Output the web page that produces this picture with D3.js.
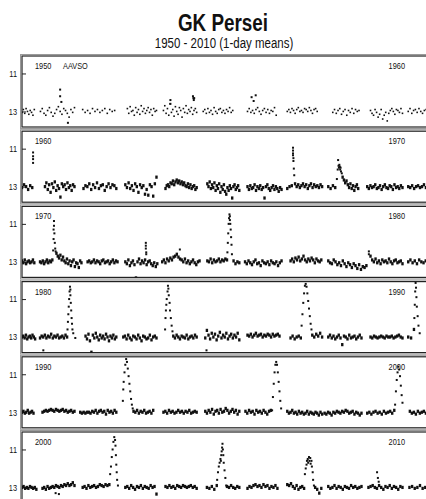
<!DOCTYPE html>
<html>
<head>
<meta charset="utf-8">
<script src="https://cdn.jsdelivr.net/npm/d3@7"></script>
<style>
  body { margin: 0; background: #fff; }
  svg text { font-family: "Liberation Sans", Arial, Helvetica, sans-serif; fill: #111; }
</style>
</head>
<body>
<svg id="chart"></svg>
<script>
// decades, one panel each
var decades = [1950, 1960, 1970, 1980, 1990, 2000];
var magTicks = [11, 13];

// observing seasons: [start, end, magnitudes read left to right]
var seasons1950 = [
  [1950.00, 1950.30, [13.05, 12.9, 13.1, 12.85, 13.0, 13.15, 12.95, 13.05, 13.2, 12.9]],
  [1950.45, 1951.28, [13.0, 12.85, 13.1, 13.2, 12.95, 12.8, 13.05, 13.25, 13.1, 12.9, 12.75, 13.0, 13.15, 12.85, 12.95, 13.1, 13.3, 12.9, 13.05, 12.8]],
  [1951.48, 1952.26, [12.9, 13.05, 12.95, 13.1, 12.85, 13.0, 12.9, 13.05, 12.95, 12.85, 13.1, 12.9, 13.0, 12.95]],
  [1952.57, 1953.28, [12.85, 13.1, 12.75, 13.0, 12.95, 13.2, 12.8, 13.05, 12.9, 13.15, 12.7, 13.0, 12.85, 13.1, 12.95, 12.8, 13.05, 12.9, 13.2, 12.85, 13.0, 12.95]],
  [1953.45, 1954.26, [12.95, 12.7, 13.1, 12.85, 13.2, 12.6, 13.05, 12.9, 13.25, 12.75, 13.0, 13.15, 12.8, 12.95, 13.3, 12.85, 13.05, 12.7, 13.1, 12.9, 13.0, 12.8, 13.15, 12.95, 12.85, 13.05]],
  [1954.42, 1955.14, [13.0, 12.9, 13.1, 12.85, 13.05, 12.95, 13.15, 12.8, 13.0, 13.1, 12.9, 12.85, 13.05, 12.95, 13.1, 12.9, 13.0, 12.8, 13.05, 12.95]],
  [1955.50, 1956.20, [13.0, 12.85, 13.05, 12.95, 13.1, 12.9, 12.8, 13.0, 13.15, 12.95, 12.85, 13.05, 12.9, 13.1, 12.95, 13.0, 12.8, 13.2]],
  [1956.47, 1957.20, [13.0, 12.9, 13.05, 12.85, 12.95, 13.1, 12.9, 12.8, 13.0, 12.95, 13.05, 12.85, 12.9, 13.0, 12.8, 12.95, 13.1, 12.9, 12.85, 13.0]],
  [1957.58, 1958.22, [13.05, 12.9, 13.1, 12.95, 12.85, 13.15, 13.0, 12.9, 13.2, 12.95, 13.05, 12.85, 13.1, 12.9, 13.0, 12.95]],
  [1958.50, 1959.28, [12.95, 13.1, 13.2, 12.9, 13.05, 13.3, 13.15, 12.9, 13.4, 13.2, 13.05, 13.5, 13.1, 12.95, 12.85, 13.0, 13.15, 12.9, 12.95, 13.05, 12.85, 13.1]],
  [1959.42, 1959.90, [13.0, 12.85, 13.1, 12.95, 12.9, 13.05, 12.85, 13.0, 13.1, 12.95, 12.9, 13.05]],
];
var seasons1960 = [
  [1960.00, 1960.25, [13.05, 12.9, 13.0, 13.15, 12.95, 13.05]],
  [1960.56, 1961.28, [13.0, 12.8, 13.15, 12.9, 13.3, 12.85, 13.05, 12.75, 13.2, 12.95, 13.1, 13.55, 12.85, 13.0, 12.9, 13.15, 12.8, 13.05, 12.95, 13.2, 12.9, 13.0]],
  [1961.50, 1962.30, [13.1, 12.95, 13.0, 12.85, 13.15, 12.9, 13.05, 12.8, 13.1, 12.95, 12.9, 13.2, 13.0, 12.85, 13.05, 12.9, 12.95, 13.1]],
  [1962.52, 1963.28, [12.9, 13.05, 12.8, 13.1, 12.95, 13.2, 12.85, 13.0, 13.3, 12.9, 13.05, 12.95, 13.4, 13.15, 13.45, 12.9, 13.0, 13.5, 12.85, 12.5]],
  [1963.50, 1964.26, [13.1, 12.95, 12.9, 13.0, 12.8, 12.85, 12.7, 12.9, 12.75, 12.65, 12.8, 12.7, 12.85, 12.75, 12.9, 12.8, 12.95, 13.0, 12.85, 13.05, 12.9, 13.1, 13.0, 12.95, 13.15, 13.05]],
  [1964.52, 1965.30, [12.85, 13.0, 12.75, 13.1, 12.9, 13.05, 12.8, 13.2, 12.95, 13.1, 12.85, 13.3, 13.0, 13.15, 12.9, 13.25, 13.4, 13.05, 13.2, 12.95, 13.1, 13.6, 13.0, 12.9, 13.15, 13.05, 12.95, 13.2]],
  [1965.50, 1966.33, [13.0, 13.15, 12.95, 13.1, 13.05, 12.9, 13.2, 13.0, 13.1, 12.95, 13.15, 13.05, 13.6, 13.0, 12.9, 13.1, 13.2, 13.05, 12.95, 13.15, 13.0, 13.1, 13.25, 13.05, 13.15]],
  [1966.47, 1966.58, [13.1, 13.0, 12.95]],
  [1966.66, 1967.32, [12.85, 13.0, 12.9, 13.05, 12.95, 12.85, 13.0, 12.9, 13.1, 12.95, 12.85, 13.05, 12.9, 13.0, 12.95, 13.05, 12.9, 13.0]],
  [1967.47, 1967.64, [13.0, 13.1, 12.95, 13.05]],
  [1967.82, 1968.20, [12.5, 12.65, 12.8, 12.7, 12.9, 13.05, 12.85, 13.1, 12.95, 13.2, 13.0, 12.9, 13.1]],
  [1968.42, 1969.28, [13.0, 13.1, 12.95, 13.05, 13.0, 12.9, 13.1, 13.05, 12.95, 13.15, 13.0, 12.9, 13.05, 13.1, 12.95, 13.0, 13.15, 12.9, 13.05, 13.0, 13.1, 12.95, 13.05]],
  [1969.42, 1969.90, [13.0, 13.05, 12.95, 13.1, 13.0, 12.95, 13.05, 13.0, 12.9, 13.05, 13.0]],
];
var seasons1970 = [
  [1970.00, 1970.30, [12.95, 13.05, 12.9, 13.1, 13.0, 12.95, 13.05, 13.0, 12.9, 13.05]],
  [1970.44, 1970.74, [13.0, 13.05, 12.95, 13.1, 13.0, 12.9, 13.05, 12.95, 13.0, 12.9]],
  [1970.84, 1971.45, [12.55, 12.7, 12.8, 12.65, 12.9, 12.75, 12.95, 13.05, 12.85, 13.1, 12.95, 13.2, 13.0, 12.9, 13.25, 13.05, 13.1, 13.3, 12.95, 13.05]],
  [1971.60, 1972.33, [13.0, 12.95, 13.05, 13.0, 12.9, 13.05, 12.95, 13.0, 13.1, 12.95, 12.9, 13.05, 13.0, 12.95, 13.1, 13.0, 12.9, 13.05, 12.95, 13.0]],
  [1972.52, 1973.30, [13.0, 13.1, 12.9, 13.2, 13.05, 12.95, 13.15, 13.85, 13.0, 12.85, 13.1, 12.95, 13.05, 12.9, 13.15, 13.0, 12.95, 13.1, 13.2, 13.05, 13.25, 13.1]],
  [1973.42, 1974.33, [13.0, 12.9, 13.05, 12.85, 12.95, 12.8, 12.9, 12.75, 12.7, 12.6, 12.75, 12.85, 12.9, 13.0, 12.85, 13.05, 12.95, 13.1, 13.0, 12.9, 13.05, 13.15, 13.0, 12.95]],
  [1974.52, 1975.00, [12.95, 13.0, 12.85, 13.05, 12.9, 13.0, 12.95, 12.85, 13.0, 12.9, 12.95, 12.85, 12.9]],
  [1975.16, 1975.30, [12.95, 13.1, 13.0, 13.05]],
  [1975.44, 1976.33, [13.0, 13.1, 12.95, 13.05, 13.15, 13.0, 12.9, 13.1, 13.05, 13.2, 12.95, 13.05, 13.1, 13.0, 13.15, 12.95, 13.05, 13.1, 13.0, 13.2, 13.05, 12.95]],
  [1976.55, 1977.30, [12.95, 12.85, 13.0, 12.8, 12.9, 12.75, 12.95, 12.85, 12.7, 12.9, 13.0, 12.85, 12.95, 12.8, 12.9, 13.05, 12.85, 12.95, 13.0, 12.9]],
  [1977.47, 1978.40, [12.95, 13.05, 13.1, 12.9, 13.0, 13.15, 13.05, 13.2, 12.95, 13.1, 13.25, 13.05, 13.15, 13.3, 13.1, 13.2, 13.35, 13.15, 13.4, 13.25, 13.3, 13.2]],
  [1978.50, 1979.28, [12.7, 12.9, 13.0, 12.85, 13.05, 12.95, 13.1, 12.9, 13.0, 12.95, 13.05, 12.85, 13.0, 13.1, 12.95, 12.9, 13.05, 13.0, 12.95, 13.1]],
  [1979.42, 1979.90, [13.0, 12.9, 13.05, 12.95, 13.1, 12.9, 13.0, 13.05, 12.95, 13.0]],
];
var seasons1980 = [
  [1980.00, 1980.32, [13.0, 12.95, 13.05, 12.9, 13.1, 13.0, 12.95, 13.05, 12.9, 13.0, 13.1]],
  [1980.44, 1981.10, [13.05, 12.95, 13.0, 12.9, 13.05, 12.95, 13.0, 12.85, 13.05, 12.95, 13.0, 12.9, 13.05, 13.0, 12.95, 13.05, 12.9, 13.0]],
  [1981.55, 1982.30, [12.95, 13.1, 12.85, 13.2, 13.8, 12.9, 13.05, 12.8, 13.0, 13.15, 12.9, 13.05, 12.95, 13.1, 12.85, 13.0, 13.2, 12.95, 13.05, 12.9, 13.1, 13.0]],
  [1982.47, 1983.28, [13.0, 12.95, 13.1, 12.9, 13.05, 13.15, 12.95, 13.0, 13.1, 12.9, 13.05, 13.2, 12.95, 13.0, 13.1, 13.05, 12.9, 13.15, 13.0, 12.95, 13.05]],
  [1983.69, 1984.26, [12.95, 13.05, 12.9, 13.0, 13.1, 12.95, 13.0, 13.05, 12.9, 13.1, 13.0, 12.95, 13.05, 12.9, 13.0]],
  [1984.47, 1985.30, [13.05, 12.65, 12.9, 13.1, 12.8, 13.0, 12.85, 13.15, 12.95, 12.75, 13.05, 12.9, 13.0, 12.8, 13.1, 12.95, 12.85, 13.05, 12.9, 13.0, 12.8, 13.15]],
  [1985.50, 1986.28, [12.9, 12.95, 12.85, 13.0, 12.9, 12.8, 12.95, 12.9, 12.85, 13.0, 12.9, 12.95, 12.85, 12.9, 13.0, 12.85, 12.95, 12.9, 12.85, 12.95]],
  [1986.55, 1986.80, [13.05, 12.95, 13.1, 13.0, 12.95, 13.05]],
  [1987.08, 1987.32, [12.9, 13.0, 12.85, 12.95, 12.8, 13.0]],
  [1987.47, 1988.28, [13.0, 12.9, 13.05, 12.95, 13.1, 13.0, 12.9, 13.05, 13.4, 12.95, 13.0, 13.1, 12.9, 13.05, 13.0, 12.95, 13.1, 13.0, 12.9, 13.05]],
  [1988.50, 1989.28, [13.0, 13.05, 12.95, 13.0, 13.05, 13.0, 12.95, 13.0, 13.05, 12.95, 13.0, 13.0, 12.95, 13.05, 13.0, 12.95, 12.9, 13.0, 13.05]],
  [1989.42, 1989.56, [13.0, 13.05, 12.6]],
];
var seasons1990 = [
  [1990.00, 1990.28, [13.0, 12.95, 13.05, 13.0, 12.9, 13.05, 13.0, 12.95, 13.05]],
  [1990.50, 1991.28, [13.0, 12.95, 12.9, 12.95, 12.9, 12.85, 12.9, 12.95, 12.85, 12.9, 12.95, 12.9, 12.85, 12.95, 12.9, 13.0, 12.95, 12.9, 13.0, 12.95]],
  [1991.42, 1992.30, [13.0, 13.05, 13.0, 13.05, 13.0, 13.0, 13.05, 12.95, 13.0, 12.9, 13.05, 12.95, 12.9, 13.0, 12.95, 13.1, 12.9, 13.0, 12.95, 13.05, 12.9, 13.0]],
  [1992.72, 1993.20, [12.95, 13.0, 12.9, 13.05, 12.95, 13.0, 12.9, 13.05, 13.0, 12.95, 13.05, 12.9]],
  [1993.45, 1994.26, [13.0, 12.95, 13.05, 12.9, 13.0, 12.95, 13.05, 13.0, 12.9, 13.0, 12.95, 13.05, 12.95, 13.0, 12.9, 13.05, 13.0, 12.95, 13.0]],
  [1994.47, 1995.30, [12.95, 13.05, 12.9, 13.0, 12.85, 13.1, 12.95, 12.9, 13.05, 12.85, 13.0, 12.95, 12.8, 12.9, 13.05, 12.95, 12.85, 13.0, 12.9, 13.1, 12.95]],
  [1995.45, 1996.07, [12.95, 13.05, 12.9, 13.0, 12.95, 13.1, 12.9, 13.0, 12.95, 13.05, 12.9, 13.0, 13.1, 12.95, 12.9]],
  [1996.47, 1997.32, [12.95, 13.05, 13.0, 12.9, 13.05, 13.0, 13.1, 12.95, 13.05, 13.0, 13.1, 13.05, 12.95, 13.1, 13.0, 13.05, 13.1, 13.0, 13.05, 13.15, 13.0, 13.1]],
  [1997.38, 1998.28, [13.05, 13.1, 13.0, 13.05, 13.15, 13.0, 13.05, 12.95, 13.0, 13.05, 12.95, 13.0, 12.9, 12.95, 13.05, 13.0, 12.95, 13.1, 13.0, 13.05, 13.15, 13.05]],
  [1998.42, 1999.08, [13.05, 13.0, 13.1, 13.0, 12.95, 13.05, 13.0, 13.1, 12.95, 13.05, 13.0, 12.95, 13.05, 12.9]],
  [1999.46, 1999.90, [12.95, 13.05, 13.0, 13.1, 12.95, 13.05, 13.0, 12.95, 13.05, 13.0]],
];
var seasons2000 = [
  [2000.00, 2000.35, [13.0, 12.95, 13.05, 13.0, 13.05, 12.95, 13.0, 13.05, 13.0, 13.1]],
  [2000.50, 2001.28, [13.05, 13.0, 13.1, 12.95, 13.05, 13.0, 12.95, 13.0, 12.9, 12.95, 13.0, 12.9, 12.95, 12.85, 12.9, 12.8, 12.9, 12.85, 12.75, 12.9]],
  [2001.48, 2002.13, [13.0, 12.95, 13.05, 12.9, 13.0, 12.95, 12.9, 13.0, 12.95, 12.85, 12.9, 12.95, 12.85, 12.9, 12.85]],
  [2002.52, 2003.28, [13.0, 12.95, 13.05, 12.9, 13.0, 13.1, 12.95, 13.0, 12.9, 13.05, 12.95, 13.0, 13.05, 12.9, 13.0, 12.95, 13.35]],
  [2003.50, 2004.26, [12.95, 13.0, 12.9, 13.0, 12.95, 13.05, 12.9, 12.95, 13.0, 12.9, 12.95, 13.0, 12.95, 12.9, 13.0, 12.95, 13.05]],
  [2004.51, 2004.75, [13.0, 13.05, 12.95, 13.1, 12.9]],
  [2005.00, 2005.30, [12.95, 13.0, 12.9, 13.0, 13.05, 12.95, 13.0]],
  [2005.50, 2006.23, [13.05, 12.95, 13.0, 12.9, 12.85, 12.95, 12.9, 13.0, 12.85, 12.95, 12.9, 13.05, 12.95, 13.0, 12.9, 13.05]],
  [2006.47, 2006.88, [12.85, 12.9, 12.8, 12.95, 13.05, 12.9, 13.1, 13.0, 12.95, 13.05]],
  [2007.15, 2007.30, [13.0, 13.1, 13.3, 13.05]],
  [2007.47, 2008.28, [12.95, 13.05, 13.0, 12.9, 13.05, 12.95, 13.0, 13.1, 12.95, 13.0, 13.05, 12.9, 13.0, 12.95, 13.05, 13.0, 12.95]],
  [2008.45, 2009.28, [13.0, 12.95, 12.9, 13.0, 13.05, 12.9, 13.0, 13.1, 12.95, 13.0, 12.9, 13.05, 12.95, 13.0, 13.1, 12.95, 13.0]],
  [2009.45, 2009.90, [13.0, 12.95, 13.05, 13.0, 12.9, 13.05, 13.0, 12.95]],
];

// single points: outbursts and stray points, [year, mag]
var points1950 = [[1950.93, 11.85], [1950.93, 12.2], [1950.96, 12.5], [1951.12, 13.6], [1953.62, 12.4], [1953.62, 12.6],
  [1954.17, 12.2], [1954.18, 12.3], [1954.19, 12.4], [1954.2, 12.3], [1955.6, 12.25], [1955.7, 12.15], [1955.65, 12.45]];
var points1960 = [[1960.27, 11.2], [1960.27, 11.4], [1960.27, 11.55], [1960.27, 11.75],
  [1966.61, 10.95], [1966.61, 11.1], [1966.61, 11.25], [1966.61, 11.35], [1966.62, 11.5], [1966.62, 11.65], [1966.63, 12.05], [1966.64, 12.4],
  [1967.68, 12.6], [1967.7, 12.1], [1967.71, 11.6], [1967.72, 11.9], [1967.73, 12.0], [1967.74, 11.85], [1967.75, 11.95], [1967.76, 12.1],
  [1967.77, 12.0], [1967.78, 12.2], [1967.8, 12.3]];
var points1970 = [[1970.76, 12.4], [1970.77, 11.8], [1970.77, 11.3], [1970.78, 10.85], [1970.78, 11.1], [1970.79, 11.5], [1970.8, 12.0],
  [1970.81, 12.3], [1970.82, 12.45], [1973.02, 12.0], [1973.02, 12.15], [1973.02, 12.3], [1973.03, 12.5], [1973.03, 12.6], [1973.85, 12.35],
  [1975.01, 12.5], [1975.02, 12.0], [1975.03, 11.5], [1975.04, 11.0], [1975.05, 10.7], [1975.06, 10.5], [1975.07, 10.6], [1975.07, 10.8],
  [1975.08, 11.0], [1975.09, 11.3], [1975.1, 11.7], [1975.11, 12.1], [1975.12, 12.6], [1978.46, 12.45], [1978.46, 12.6]];
var points1980 = [[1980.52, 13.7], [1981.11, 12.6], [1981.12, 12.2], [1981.13, 11.8], [1981.14, 11.4], [1981.15, 11.0], [1981.16, 10.6],
  [1981.17, 10.35], [1981.18, 10.5], [1981.18, 10.8], [1981.19, 11.2], [1981.2, 11.6], [1981.21, 12.0], [1981.22, 12.3], [1981.23, 12.6],
  [1981.25, 12.8], [1981.3, 13.05], [1983.49, 12.6], [1983.5, 12.0], [1983.51, 11.6], [1983.52, 11.3], [1983.53, 11.0], [1983.55, 10.6],
  [1983.56, 10.3], [1983.57, 10.45], [1983.58, 10.8], [1983.6, 11.2], [1983.61, 11.6], [1983.63, 12.0], [1983.65, 12.4], [1983.67, 12.7],
  [1984.5, 13.7], [1986.82, 12.4], [1986.84, 11.8], [1986.86, 11.2], [1986.88, 10.7], [1986.9, 10.3], [1986.92, 10.2], [1986.94, 10.35],
  [1986.96, 10.7], [1986.98, 11.1], [1987.0, 11.5], [1987.02, 11.9], [1987.04, 12.3], [1987.06, 12.6], [1989.57, 12.0], [1989.58, 11.3],
  [1989.59, 10.6], [1989.6, 10.15], [1989.61, 10.4], [1989.62, 10.9], [1989.63, 11.4], [1989.65, 11.9], [1989.67, 12.4], [1989.7, 12.8]];
var points1990 = [[1992.46, 12.4], [1992.47, 11.8], [1992.48, 11.4], [1992.5, 10.9], [1992.52, 10.5], [1992.54, 10.2], [1992.56, 10.35],
  [1992.58, 10.7], [1992.6, 11.1], [1992.62, 11.5], [1992.64, 11.9], [1992.66, 12.3], [1992.68, 12.6], [1992.7, 12.8],
  [1996.1, 12.9], [1996.12, 12.2], [1996.14, 11.5], [1996.16, 10.9], [1996.18, 10.5], [1996.2, 10.35], [1996.22, 10.5], [1996.24, 10.9],
  [1996.26, 11.4], [1996.28, 11.9], [1996.3, 12.4], [1996.32, 12.8], [1999.1, 12.6], [1999.12, 11.9], [1999.14, 11.3], [1999.16, 10.9],
  [1999.18, 10.6], [1999.2, 10.75], [1999.22, 11.1], [1999.24, 11.6], [1999.26, 12.1], [1999.28, 12.5]];
var points2000 = [[2000.82, 13.3], [2000.9, 13.35], [2002.15, 12.3], [2002.17, 11.9], [2002.19, 11.4], [2002.21, 11.0], [2002.23, 10.6],
  [2002.25, 10.35], [2002.27, 10.5], [2002.28, 10.8], [2002.29, 11.3], [2002.3, 11.8], [2002.31, 12.2], [2002.32, 12.6], [2002.34, 12.9],
  [2004.76, 12.6], [2004.78, 12.2], [2004.8, 11.9], [2004.82, 11.7], [2004.84, 11.5], [2004.85, 11.6], [2004.86, 11.3], [2004.87, 11.1],
  [2004.88, 10.9], [2004.89, 10.7], [2004.9, 11.0], [2004.91, 11.3], [2004.92, 11.7], [2004.94, 12.1], [2004.96, 12.5], [2004.98, 12.9],
  [2006.9, 12.3], [2006.92, 12.0], [2006.94, 11.8], [2006.95, 11.6], [2006.97, 11.5], [2006.98, 11.7], [2007.0, 11.4], [2007.01, 11.6],
  [2007.03, 11.45], [2007.04, 11.75], [2007.06, 11.6], [2007.07, 11.9], [2007.09, 12.2], [2007.1, 12.6], [2007.12, 12.9],
  [2008.66, 12.2], [2008.68, 12.5], [2008.7, 12.7]];

var allSeasons = [seasons1950, seasons1960, seasons1970, seasons1980, seasons1990, seasons2000];
var allPoints = [points1950, points1960, points1970, points1980, points1990, points2000];

// layout
var width = 426, height = 499;
var panelLeft = 22, panelRight = 432, panelTop = 56, panelStep = 75.2, panelH = 71;
var squeeze = "scale(0.82,1)"; // the scan uses a narrow face

var svg = d3.select("svg#chart").attr("width", width).attr("height", height);

// small helper for narrow text
function label(parent, x, y, txt, size, anchor) {
  return parent.append("text")
    .attr("transform", "translate(" + x + "," + y + ") " + squeeze)
    .attr("text-anchor", anchor || "start")
    .style("font-size", size + "px")
    .text(txt);
}

// titles
label(svg, 223, 31, "GK Persei", 23, "middle").style("font-weight", "bold");
label(svg, 224, 48, "1950 - 2010 (1-day means)", 14, "middle");

var y = d3.scaleLinear().domain([10.08, 13.82]).range([0, panelH]);

// turn a season into points spaced evenly over its span
function seasonPoints(s) {
  var n = s[2].length;
  return s[2].map((m, i) => [s[0] + ((s[1] - s[0]) * i) / Math.max(n - 1, 1), m]);
}

decades.forEach(function (dec, i) {
  var top = panelTop + i * panelStep;
  var x = d3.scaleLinear().domain([dec, dec + 10]).range([panelLeft, panelRight]);
  var g = svg.append("g").attr("transform", "translate(0," + top + ")");

  g.append("clipPath").attr("id", "clip" + i)
    .append("rect").attr("x", panelLeft).attr("y", 0).attr("width", width - panelLeft).attr("height", panelH);

  // double frame like the scanned plot
  g.append("rect")
    .attr("x", panelLeft - 1.5).attr("y", -1.5)
    .attr("width", 500).attr("height", panelH + 3)
    .attr("fill", "none").attr("stroke", "#9a9a9a").attr("stroke-width", 1);
  g.append("rect")
    .attr("x", panelLeft).attr("y", 0)
    .attr("width", 500).attr("height", panelH)
    .attr("fill", "none").attr("stroke", "#222").attr("stroke-width", 1.2);

  // y axis, ticks inward
  var axis = g.append("g")
    .attr("transform", "translate(" + panelLeft + ",0)")
    .call(d3.axisLeft(y).tickValues(magTicks).tickFormat(d3.format("d")).tickSize(-4));
  axis.select(".domain").remove();
  axis.selectAll("line").attr("stroke", "#222");
  axis.selectAll("text")
    .attr("x", null)
    .attr("transform", "translate(-5,0) " + squeeze)
    .style("font-size", "9px")
    .attr("fill", "#111");

  // decade labels
  label(g, 35, 13, dec, 9);
  label(g, 405, 13, dec + 10, 9, "end");
  if (i === 0) label(g, 63, 13, "AAVSO", 9);

  var plot = g.append("g").attr("clip-path", "url(#clip" + i + ")");

  // quiescent seasons; the 1950s record is thin, later decades are packed
  var qw = i === 0 ? 1.6 : 2.4, qh = i === 0 ? 1.6 : 3.2;
  var quiet = [];
  allSeasons[i].forEach((s) => { quiet = quiet.concat(seasonPoints(s)); });
  plot.selectAll("rect.q")
    .data(quiet)
    .enter()
    .append("rect")
    .attr("class", "q")
    .attr("x", (d) => x(d[0]) - qw / 2)
    .attr("y", (d) => y(d[1]) - qh / 2)
    .attr("width", qw)
    .attr("height", qh)
    .attr("fill", "#111");

  // outbursts and strays
  plot.selectAll("rect.b")
    .data(allPoints[i])
    .enter()
    .append("rect")
    .attr("class", "b")
    .attr("x", (d) => x(d[0]) - 1)
    .attr("y", (d) => y(d[1]) - 1)
    .attr("width", 2)
    .attr("height", 2)
    .attr("fill", "#111");
});
</script>
</body>
</html>
